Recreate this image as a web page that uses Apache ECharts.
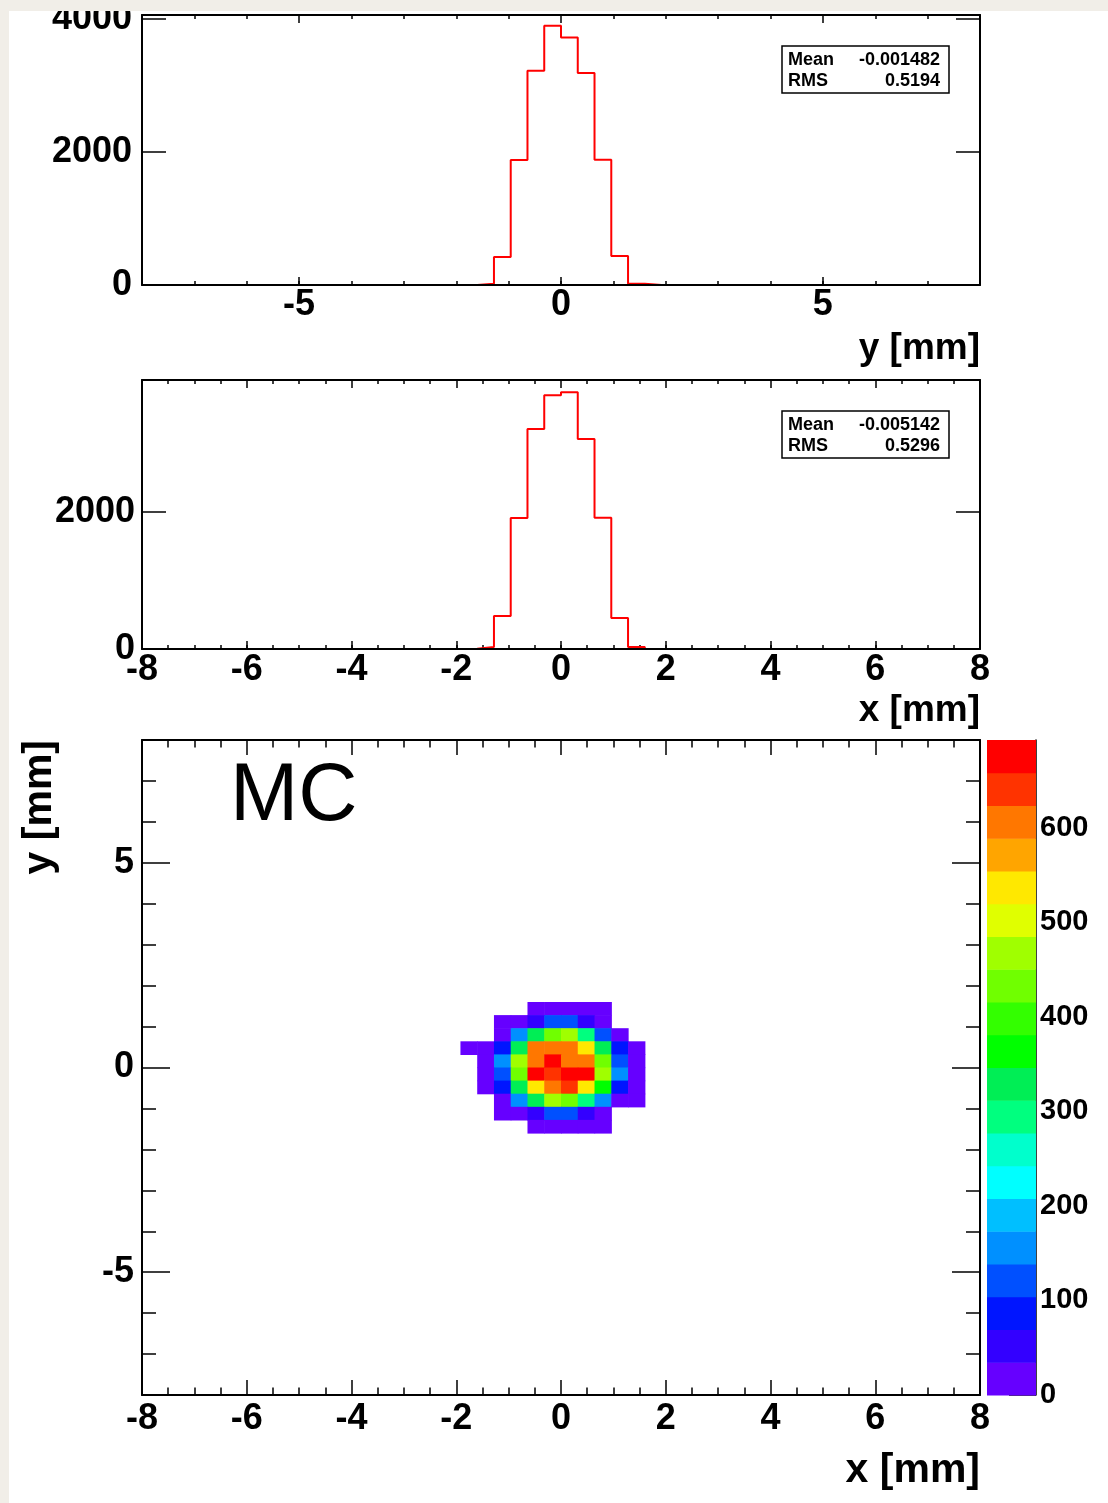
<!DOCTYPE html>
<html>
<head>
<meta charset="utf-8">
<script src="https://cdn.jsdelivr.net/npm/echarts@6/dist/echarts.min.js"></script>
<style>
html, body { margin: 0; padding: 0; background: #f1eee8; width: 1108px; height: 1503px; overflow: hidden; }
#chart { position: absolute; left: 9px; top: 11px; width: 1099px; height: 1492px; background: #ffffff; }
</style>
</head>
<body>
<div id="chart"></div>
<script>
// ------------------------------------------------------------------ data
// binning shared by all histograms: 50 bins of 0.32 mm from -8 to 8 mm
const binLow = -8;
const binWidth = 0.32;

// y projection (top panel), counts per bin
const yHistCounts = [
  0, 0, 0, 0, 0, 0, 0, 0, 0, 0,
  0, 0, 0, 0, 0, 0, 0, 0, 0, 0,
  20, 420, 1879, 3223, 3899, 3723, 3187, 1883, 435, 20,
  0, 0, 0, 0, 0, 0, 0, 0, 0, 0,
  0, 0, 0, 0, 0, 0, 0, 0, 0, 0
];
// x projection (middle panel), counts per bin
const xHistCounts = [
  0, 0, 0, 0, 0, 0, 0, 0, 0, 0,
  0, 0, 0, 0, 0, 0, 0, 0, 0, 3,
  30, 482, 1912, 3212, 3704, 3747, 3066, 1917, 453, 30,
  0, 0, 0, 0, 0, 0, 0, 0, 0, 0,
  0, 0, 0, 0, 0, 0, 0, 0, 0, 0
];
const statLabels = ['Mean', 'RMS'];
const yStatValues = ['-0.001482', '0.5194'];
const xStatValues = ['-0.005142', '0.5296'];

// 2D map: the non-empty block of cells. Rows run from top (y bin 29) down,
// columns start at x bin 19.
const mapColFirstBin = 19;
const mapRowTopBin = 29;
const mapCounts = [
  [0, 0, 0, 0, 4, 6, 5, 4, 3, 0, 0],
  [0, 0, 8, 14, 62, 128, 133, 58, 12, 0, 0],
  [0, 0, 10, 160, 322, 440, 475, 300, 118, 9, 0],
  [3, 6, 92, 335, 612, 615, 604, 545, 318, 85, 7],
  [0, 9, 152, 470, 606, 680, 612, 598, 430, 124, 10],
  [0, 11, 118, 438, 672, 650, 693, 670, 472, 160, 9],
  [0, 8, 86, 327, 541, 602, 648, 530, 372, 90, 8],
  [0, 0, 12, 165, 318, 474, 436, 296, 150, 14, 5],
  [0, 0, 9, 16, 58, 122, 118, 55, 11, 0, 0],
  [0, 0, 0, 0, 5, 7, 6, 4, 3, 0, 0]
];
const zMax = 693;
const nContours = 20;

// tick labels
const yPanelTickLabels = [-5, 0, 5];
const xPanelTickLabels = [-8, -6, -4, -2, 0, 2, 4, 6, 8];
const topCountLabels = [0, 2000, 4000];
const midCountLabels = [0, 2000];
const mapYTickLabels = [-5, 0, 5];
const colorTickLabels = [0, 100, 200, 300, 400, 500, 600];
const mapLabel = 'MC';

// ------------------------------------------------------------------ style
const palette = [
  '#6600ff', '#3300ff', '#0015ff', '#0050ff', '#0090ff',
  '#00bfff', '#00ffff', '#00ffcc', '#00ff7f', '#00ee55',
  '#00ff00', '#33ff00', '#70ff00', '#a0ff00', '#e0ff00',
  '#ffe800', '#ffa500', '#ff7700', '#ff3300', '#ff0000'
];
const OX = 9, OY = 11;
const FF = '"Liberation Sans", Arial, Helvetica, sans-serif';
const BLACK = '#000000';

function steps(a, b, s) {
  const r = [];
  for (let i = 0; a + i * s <= b + 1e-9; i++) r.push(Math.round((a + i * s) * 1000) / 1000);
  return r;
}

function axis(grid, pos, min, max, o) {
  return {
    type: 'value', gridIndex: grid, position: pos, min: min, max: max, z: o.z || 0,
    show: o.hidden ? false : true,
    axisLine: { show: !!o.line, onZero: false, lineStyle: { color: BLACK, width: o.lineWidth || 2 } },
    axisTick: { show: !!o.ticks, inside: true, length: o.len || 0, customValues: o.ticks || [],
                lineStyle: { color: BLACK, width: 1.5 } },
    axisLabel: o.labels ? {
      show: true, customValues: o.labels, margin: o.margin, color: BLACK,
      fontSize: o.fontSize || 36, fontWeight: 'bold', fontFamily: FF,
      formatter: function (v) { return String(v); }
    } : { show: false },
    splitLine: { show: false }, minorTick: { show: false }, minorSplitLine: { show: false }
  };
}

function gridAt(left, top, width, height) {
  return { left: left - OX, top: top - OY, width: width, height: height,
           containLabel: false, outerBoundsMode: 'none' };
}

const grids = [
  gridAt(142, 15, 838, 270),
  gridAt(142, 380, 838, 269),
  gridAt(142, 740, 838, 655),
  gridAt(987, 740, 49, 655)
];

const yHistMax = 4060, xHistMax = 3927;

const xAxes = [
  // grid 0 (y projection)
  axis(0, 'bottom', -8, 8, { line: true, ticks: yPanelTickLabels, len: 8, labels: yPanelTickLabels, margin: 2, z: 5 }),
  axis(0, 'bottom', -8, 8, { ticks: steps(-8, 8, 1), len: 4 }),
  axis(0, 'top', -8, 8, { line: true, ticks: yPanelTickLabels, len: 8 }),
  axis(0, 'top', -8, 8, { ticks: steps(-8, 8, 1), len: 4 }),
  // grid 1 (x projection)
  axis(1, 'bottom', -8, 8, { line: true, ticks: xPanelTickLabels, len: 8, labels: xPanelTickLabels, margin: 3, z: 5 }),
  axis(1, 'bottom', -8, 8, { ticks: steps(-8, 8, 0.5), len: 4 }),
  axis(1, 'top', -8, 8, { line: true, ticks: xPanelTickLabels, len: 8 }),
  axis(1, 'top', -8, 8, { ticks: steps(-8, 8, 0.5), len: 4 }),
  // grid 2 (map)
  axis(2, 'bottom', -8, 8, { line: true, ticks: xPanelTickLabels, len: 15, labels: xPanelTickLabels, margin: 6 }),
  axis(2, 'bottom', -8, 8, { ticks: steps(-8, 8, 0.5), len: 7.5 }),
  axis(2, 'top', -8, 8, { line: true, ticks: xPanelTickLabels, len: 15 }),
  axis(2, 'top', -8, 8, { ticks: steps(-8, 8, 0.5), len: 7.5 }),
  // grid 3 (colour bar)
  axis(3, 'bottom', 0, 1, { hidden: true })
];

const yAxes = [
  axis(0, 'left', 0, yHistMax, { line: true, ticks: topCountLabels, len: 24, labels: topCountLabels, margin: 10 }),
  axis(0, 'right', 0, yHistMax, { line: true, ticks: topCountLabels, len: 24 }),
  axis(1, 'left', 0, xHistMax, { line: true, ticks: midCountLabels, len: 24, labels: midCountLabels, margin: 7 }),
  axis(1, 'right', 0, xHistMax, { line: true, ticks: midCountLabels, len: 24 }),
  axis(2, 'left', -8, 8, { line: true, ticks: mapYTickLabels, len: 28, labels: mapYTickLabels, margin: 8 }),
  axis(2, 'left', -8, 8, { ticks: steps(-8, 8, 1), len: 14 }),
  axis(2, 'right', -8, 8, { line: true, ticks: mapYTickLabels, len: 28 }),
  axis(2, 'right', -8, 8, { ticks: steps(-8, 8, 1), len: 14 }),
  axis(3, 'right', 0, zMax, { line: true, lineWidth: 1.5, ticks: colorTickLabels, len: 27,
                              labels: colorTickLabels, margin: 4, fontSize: 29 })
];

function stepData(counts) {
  const d = [];
  for (let k = 0; k < counts.length; k++) d.push([binLow + k * binWidth, counts[k]]);
  d.push([binLow + counts.length * binWidth, counts[counts.length - 1]]);
  return d;
}

const mapData = [];
mapCounts.forEach(function (row, r) {
  row.forEach(function (z, c) {
    if (z > 0) {
      mapData.push([binLow + (mapColFirstBin + c) * binWidth, binLow + (mapRowTopBin - r) * binWidth, z]);
    }
  });
});

const levelData = [];
for (let i = 0; i < nContours; i++) levelData.push([i, i * zMax / nContours, (i + 1) * zMax / nContours]);

function bandOf(z) { return Math.min(nContours - 1, Math.floor(z / zMax * nContours)); }

function txt(x, y, text, size, align, weight, extra) {
  const el = {
    type: 'text', x: x - OX, y: y - OY, z: 100,
    style: {
      text: text, fill: BLACK, font: (weight || 'bold') + ' ' + size + 'px ' + FF,
      align: align, textAlign: align, verticalAlign: 'middle', textVerticalAlign: 'middle'
    }
  };
  if (extra) Object.assign(el, extra);
  return el;
}

function statBox(top, values) {
  return [
    { type: 'rect', z: 90, shape: { x: 782 - OX, y: top - OY, width: 167, height: 47 },
      style: { fill: '#ffffff', stroke: BLACK, lineWidth: 1.5 } },
    txt(788, top + 14, statLabels[0], 18, 'left'),
    txt(940, top + 14, values[0], 18, 'right'),
    txt(788, top + 35, statLabels[1], 18, 'left'),
    txt(940, top + 35, values[1], 18, 'right')
  ];
}

const option = {
  animation: false,
  backgroundColor: '#ffffff',
  grid: grids,
  xAxis: xAxes,
  yAxis: yAxes,
  series: [
    { type: 'line', step: 'end', xAxisIndex: 0, yAxisIndex: 0, data: stepData(yHistCounts),
      symbol: 'none', lineStyle: { color: '#ff0000', width: 2 }, z: 3 },
    { type: 'line', step: 'end', xAxisIndex: 4, yAxisIndex: 2, data: stepData(xHistCounts),
      symbol: 'none', lineStyle: { color: '#ff0000', width: 2 }, z: 3 },
    { type: 'custom', xAxisIndex: 8, yAxisIndex: 4, data: mapData, encode: { x: 0, y: 1 },
      renderItem: function (params, api) {
        const x0 = api.value(0), y0 = api.value(1), z = api.value(2);
        const p0 = api.coord([x0, y0 + binWidth]);
        const p1 = api.coord([x0 + binWidth, y0]);
        return { type: 'rect',
          shape: { x: p0[0], y: p0[1], width: p1[0] - p0[0] + 0.6, height: p1[1] - p0[1] + 0.6 },
          style: { fill: palette[bandOf(z)] } };
      } },
    { type: 'custom', xAxisIndex: 12, yAxisIndex: 8, data: levelData, encode: { y: [1, 2] },
      renderItem: function (params, api) {
        const i = api.value(0);
        const p0 = api.coord([0, api.value(2)]);
        const p1 = api.coord([1, api.value(1)]);
        return { type: 'rect',
          shape: { x: p0[0], y: p0[1], width: p1[0] - p0[0], height: p1[1] - p0[1] + 0.6 },
          style: { fill: palette[i] } };
      } }
  ],
  graphic: [
    txt(980, 349, 'y [mm]', 37, 'right'),
    txt(980, 711, 'x [mm]', 37, 'right'),
    txt(980, 1471, 'x [mm]', 41, 'right'),
    { type: 'text', x: 40 - OX, y: 740 - OY, rotation: Math.PI / 2, z: 100,
      style: { text: 'y [mm]', fill: BLACK, font: 'bold 41px ' + FF,
               align: 'right', textAlign: 'right', verticalAlign: 'middle', textVerticalAlign: 'middle' } },
    txt(230, 797, mapLabel, 82, 'left', 'normal')
  ].concat(statBox(46, yStatValues)).concat(statBox(411, xStatValues))
};

const chart = echarts.init(document.getElementById('chart'), null, { renderer: 'canvas' });
chart.setOption(option);
</script>
</body>
</html>
